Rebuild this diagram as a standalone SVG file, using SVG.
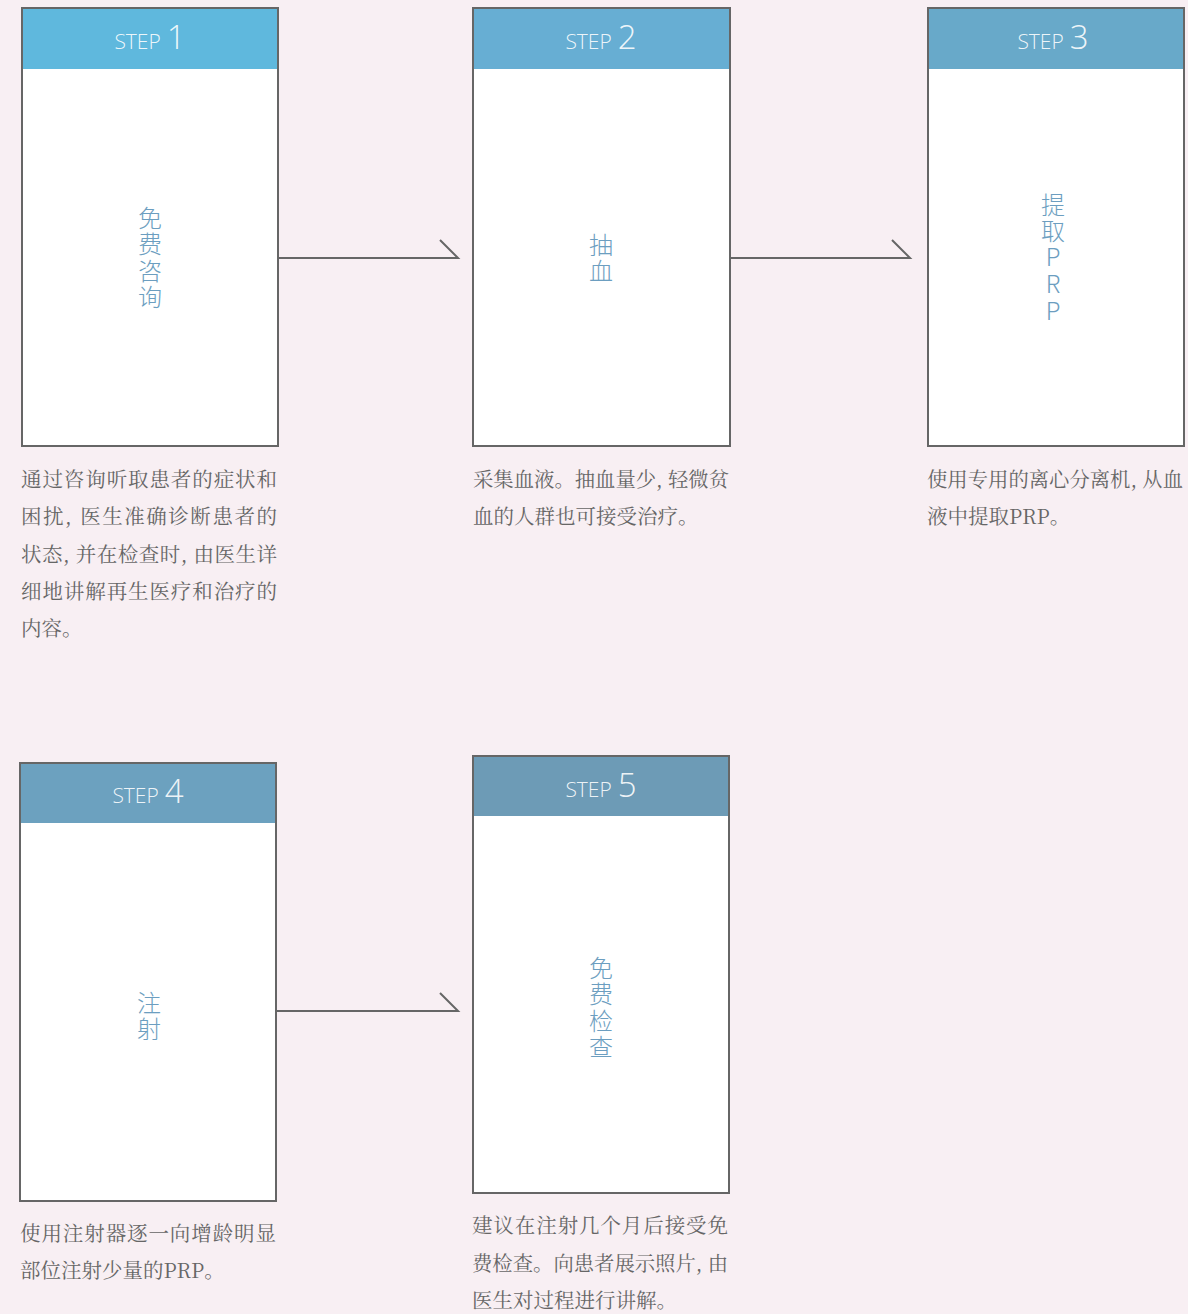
<svg xmlns="http://www.w3.org/2000/svg" width="1188" height="1314" viewBox="0 0 1188 1314">
<style>
.box{fill:#ffffff;stroke:#666666;stroke-width:2}
.hd{stroke:none}
.st{font-family:"Open Sans","Lato",sans-serif;font-weight:300;fill:#ffffff;fill-opacity:0.9}
.st .s{font-size:21px}
.st .n{font-size:33px}
.vt{font-family:"Noto Sans CJK SC","Noto Sans",sans-serif;font-size:24px;fill:#6c9ec0;text-anchor:middle;font-weight:300}
.ds{font-family:"Noto Serif CJK SC","Noto Sans CJK SC","Liberation Serif",serif;font-size:20.5px;fill:#666666}
.cn{fill:none;stroke:#666666;stroke-width:2}
</style>
<rect width="1188" height="1314" fill="#f8eff3"/>
<g id="connectors">
<path class="cn" d="M279 258H458L440 240"/>
<path class="cn" d="M731 258H910L892 240"/>
<path class="cn" d="M277 1011H458L440 993"/>
</g>
<g id="step1">
<rect class="box" x="22" y="8" width="256" height="438"/>
<rect class="hd" x="23" y="9" width="254" height="60" fill="#5fb8dd"/>
<text class="st" x="150" y="49" text-anchor="middle"><tspan class="s">STEP</tspan><tspan class="n" dx="6">1</tspan></text>
<text class="vt"><tspan x="150" y="227">免</tspan><tspan x="150" y="253">费</tspan><tspan x="150" y="280">咨</tspan><tspan x="150" y="306">询</tspan></text>
<text class="ds"><tspan x="21" y="487" textLength="256" lengthAdjust="spacing">通过咨询听取患者的症状和</tspan><tspan x="21" y="524" textLength="256" lengthAdjust="spacing">困扰, 医生准确诊断患者的</tspan><tspan x="21" y="562" textLength="256" lengthAdjust="spacing">状态, 并在检查时, 由医生详</tspan><tspan x="21" y="599" textLength="256" lengthAdjust="spacing">细地讲解再生医疗和治疗的</tspan><tspan x="21" y="636">内容。</tspan></text>
</g>
<g id="step2">
<rect class="box" x="473" y="8" width="257" height="438"/>
<rect class="hd" x="474" y="9" width="255" height="60" fill="#67aed3"/>
<text class="st" x="601" y="49" text-anchor="middle"><tspan class="s">STEP</tspan><tspan class="n" dx="6">2</tspan></text>
<text class="vt"><tspan x="601" y="254">抽</tspan><tspan x="601" y="280">血</tspan></text>
<text class="ds"><tspan x="473" y="487" textLength="256" lengthAdjust="spacingAndGlyphs">采集血液。抽血量少, 轻微贫</tspan><tspan x="473" y="524">血的人群也可接受治疗。</tspan></text>
</g>
<g id="step3">
<rect class="box" x="928" y="8" width="256" height="438"/>
<rect class="hd" x="929" y="9" width="254" height="60" fill="#68a9c9"/>
<text class="st" x="1053" y="49" text-anchor="middle"><tspan class="s">STEP</tspan><tspan class="n" dx="6">3</tspan></text>
<text class="vt"><tspan x="1053" y="214">提</tspan><tspan x="1053" y="240">取</tspan><tspan x="1053" y="266">P</tspan><tspan x="1053" y="293">R</tspan><tspan x="1053" y="320">P</tspan></text>
<text class="ds"><tspan x="927" y="487" textLength="256" lengthAdjust="spacingAndGlyphs">使用专用的离心分离机, 从血</tspan><tspan x="927" y="524">液中提取PRP。</tspan></text>
</g>
<g id="step4">
<rect class="box" x="20" y="763" width="256" height="438"/>
<rect class="hd" x="21" y="764" width="254" height="59" fill="#6ca1bf"/>
<text class="st" x="148" y="803" text-anchor="middle"><tspan class="s">STEP</tspan><tspan class="n" dx="6">4</tspan></text>
<text class="vt"><tspan x="149" y="1012">注</tspan><tspan x="149" y="1038">射</tspan></text>
<text class="ds"><tspan x="20" y="1241" textLength="256" lengthAdjust="spacing">使用注射器逐一向增龄明显</tspan><tspan x="20" y="1278">部位注射少量的PRP。</tspan></text>
</g>
<g id="step5">
<rect class="box" x="473" y="756" width="256" height="437"/>
<rect class="hd" x="474" y="757" width="254" height="59" fill="#6d9bb6"/>
<text class="st" x="601" y="797" text-anchor="middle"><tspan class="s">STEP</tspan><tspan class="n" dx="6">5</tspan></text>
<text class="vt"><tspan x="601" y="977">免</tspan><tspan x="601" y="1003">费</tspan><tspan x="601" y="1030">检</tspan><tspan x="601" y="1056">查</tspan></text>
<text class="ds"><tspan x="472" y="1233" textLength="256" lengthAdjust="spacing">建议在注射几个月后接受免</tspan><tspan x="472" y="1271" textLength="256" lengthAdjust="spacingAndGlyphs">费检查。向患者展示照片, 由</tspan><tspan x="472" y="1308">医生对过程进行讲解。</tspan></text>
</g>
</svg>
